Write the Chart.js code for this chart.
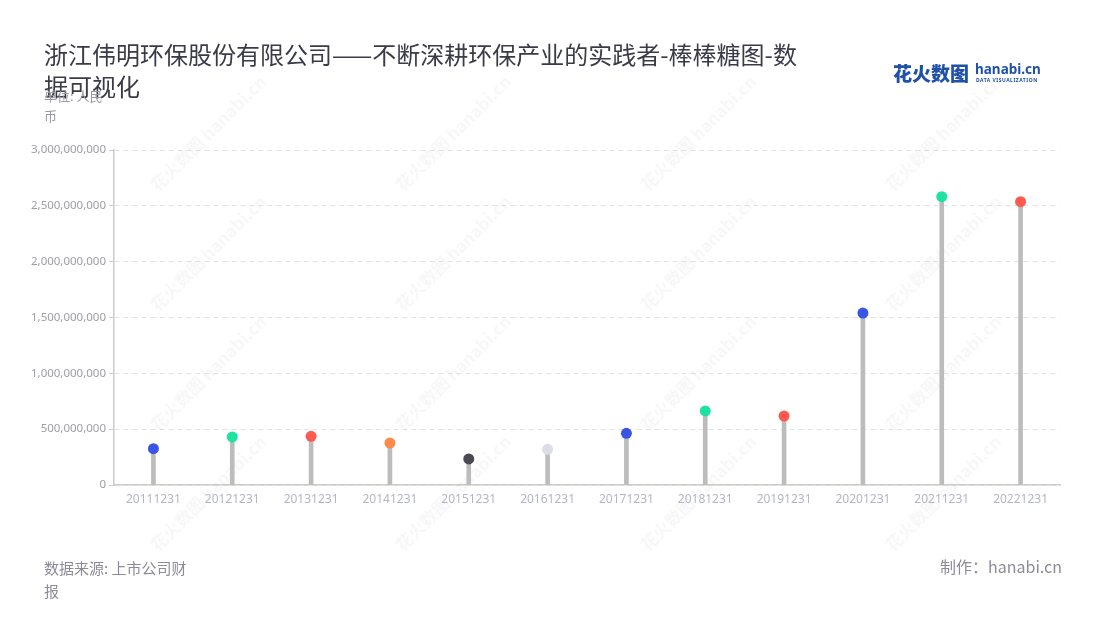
<!DOCTYPE html>
<html>
<head>
<meta charset="utf-8">
<script src="https://cdn.jsdelivr.net/npm/chart.js@4/dist/chart.umd.min.js"></script>
<style>
    body { margin: 0; background: #fff; font-family: "Noto Sans CJK SC", "Noto Sans", sans-serif; }
    #page { position: relative; width: 1100px; height: 620px; overflow: hidden; }
    #chartBox { position: absolute; left: 0; top: 0; width: 1100px; height: 620px; }
    .titulo { position: absolute; left: 44px; top: 38px; width: 770px; font-size: 24px; line-height: 32px; color: #3a3a48; }
    .unidade { position: absolute; left: 44px; top: 86px; width: 70px; font-size: 13px; line-height: 20px; color: #9a9aa6; }
    .fonte { position: absolute; left: 44px; top: 556px; width: 156px; font-size: 15px; line-height: 23px; color: #8c8c98; }
    .autor { position: absolute; right: 38px; top: 555px; font-size: 16px; line-height: 23px; color: #8c8c98; }
    .logo { position: absolute; left: 893px; top: 59px; color: #2051a8; }
    .logo .cn { font-size: 19px; font-weight: 900; }
    .logo .en { position: absolute; left: 82px; top: 1px; font-family: "Noto Sans", sans-serif; font-size: 13.5px; font-weight: 700; white-space: nowrap; }
    .logo .sub { position: absolute; left: 83px; top: 18px; font-family: "Noto Sans", sans-serif; font-size: 5px; font-weight: 700; white-space: nowrap; letter-spacing: 0.5px; }
    .marca { position: absolute; font-size: 17px; font-weight: 700; color: rgba(200, 200, 205, 0.14); transform: rotate(-45deg); white-space: nowrap; pointer-events: none; }
</style>
</head>
<body>
<div id="page">
    <div id="chartBox"><canvas id="graficoPirulito"></canvas></div>
    <div class="titulo">浙江伟明环保股份有限公司——不断深耕环保产业的实践者-棒棒糖图-数据可视化</div>
    <div class="unidade">单位: 人民币</div>
    <div class="logo"><span class="cn">花火数图</span><span class="en">hanabi.cn</span><span class="sub">DATA VISUALIZATION</span></div>
    <div class="fonte">数据来源: 上市公司财报</div>
    <div class="autor">制作：hanabi.cn</div>
</div>
<script>
// Dados do gráfico
const datas = ['20111231', '20121231', '20131231', '20141231', '20151231', '20161231',
    '20171231', '20181231', '20191231', '20201231', '20211231', '20221231'];
const valores = [325000000, 430000000, 436000000, 376000000, 233000000, 320000000,
    463000000, 663000000, 618000000, 1540000000, 2582000000, 2537000000];
const coresPontos = ['#3a55e6', '#1de39e', '#ff5a4f', '#ff8b4a', '#4a4a55', '#dadde8',
    '#3a55e6', '#1de39e', '#ff5a4f', '#3a55e6', '#1de39e', '#ff5a4f'];

// Marcas d'água
const pagina = document.getElementById('page');
[120, 240, 360, 480].forEach(function (y) {
    [130, 375, 620, 865].forEach(function (x) {
        let m = document.createElement('div');
        m.className = 'marca';
        m.style.left = x + 'px';
        m.style.top = y + 'px';
        m.innerText = '花火数图 hanabi.cn';
        pagina.appendChild(m);
    });
});

const ctx = document.getElementById('graficoPirulito').getContext('2d');
const grafico = new Chart(ctx, {
    data: {
        labels: datas,
        datasets: [{
            type: 'scatter',
            data: valores,
            showLine: false,
            pointRadius: 5.5,
            pointHoverRadius: 5.5,
            pointBackgroundColor: coresPontos,
            pointBorderWidth: 0,
            order: 0
        }, {
            type: 'bar',
            data: valores,
            backgroundColor: '#bcbcbc',
            barThickness: 4,
            order: 1
        }]
    },
    options: {
        responsive: true,
        maintainAspectRatio: false,
        animation: false,
        layout: { padding: { left: 0, right: 40, top: 150, bottom: 105 } },
        plugins: { legend: { display: false }, tooltip: { enabled: false } },
        scales: {
            x: {
                type: 'category',
                offset: true,
                grid: { display: false, drawTicks: true, tickLength: 5, color: '#cccccc' },
                border: { color: '#cccccc', width: 1.5 },
                ticks: { color: '#b3b6c6', font: { size: 12, family: 'Noto Sans' }, padding: 2, maxRotation: 0 },
                afterFit: function (scale) { scale.height = 30; }
            },
            y: {
                min: 0,
                max: 3000000000,
                grid: {
                    color: '#e2e2e2',
                    tickColor: '#cccccc',
                    tickLength: 5,
                    drawTicks: true
                },
                border: { color: '#cccccc', width: 1.5, dash: [5, 4] },
                ticks: {
                    stepSize: 500000000,
                    color: '#9d9da6',
                    font: { size: 11.5, family: 'Noto Sans' },
                    padding: 3,
                    callback: function (v) { return v.toLocaleString('en-US'); }
                },
                afterFit: function (scale) { scale.width = 114; }
            }
        }
    }
});
</script>
</body>
</html>
